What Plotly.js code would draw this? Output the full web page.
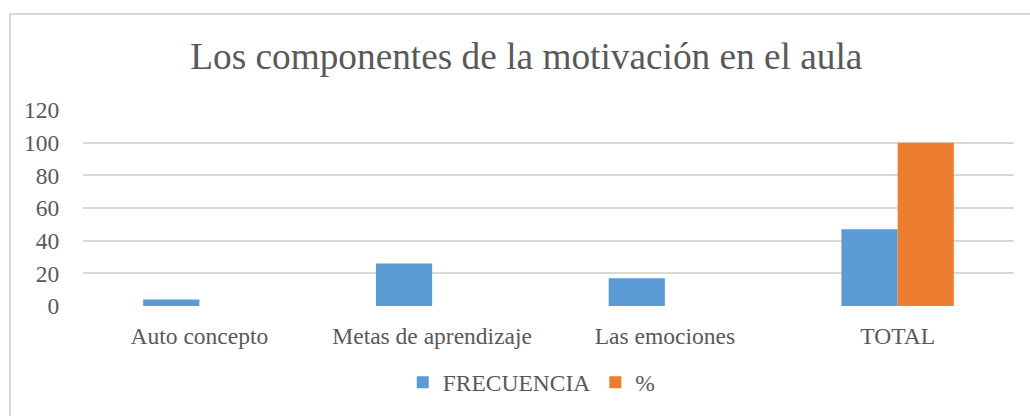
<!DOCTYPE html>
<html>
<head>
<meta charset="utf-8">
<script src="https://cdn.plot.ly/plotly-3.0.1.min.js"></script>
<style>
html,body{margin:0;padding:0;background:#fff;overflow:hidden;}
#frame{position:absolute;left:9px;top:13px;width:1040px;height:440px;border:2px solid #d9d9d9;box-sizing:border-box;}
#chart{position:absolute;left:0;top:0;width:1030px;height:416px;}
</style>
</head>
<body>
<div id="frame"></div>
<div id="chart"></div>
<script>
const categories = ["Auto concepto", "Metas de aprendizaje", "Las emociones", "TOTAL"];
const frecuencia = [4, 26, 17, 47];
const porcentaje = [null, null, null, 100];
const yTicks = [0, 20, 40, 60, 80, 100, 120];

const font = {family: '"Liberation Serif"', color: "#595959"};

const data = [
  {type: "bar", name: "FRECUENCIA", x: categories, y: frecuencia, marker: {color: "#5b9bd5"}},
  {type: "bar", name: "%", x: categories, y: porcentaje, marker: {color: "#ed7d31"}}
];

const layout = {
  width: 1030, height: 416,
  font: font,
  paper_bgcolor: "rgba(0,0,0,0)", plot_bgcolor: "rgba(0,0,0,0)",
  margin: {l: 83, r: 16, t: 110, b: 108},
  title: {text: "Los componentes de la motivación en el aula", font: Object.assign({}, font, {size: 37.3}), x: 0.511, xanchor: "center", y: 0.865, yanchor: "middle"},
  barmode: "group", bargap: 0.517, bargroupgap: 0,
  xaxis: {tickfont: Object.assign({}, font, {size: 23.5}), showline: false, showgrid: false, ticks: "outside", ticklen: 9, tickcolor: "rgba(0,0,0,0)"},
  yaxis: {range: [0, 120], tickvals: yTicks, tickfont: Object.assign({}, font, {size: 23.5}), gridcolor: "#d9d9d9", gridwidth: 2, zeroline: false, showline: false, ticks: "outside", ticklen: 18, tickcolor: "rgba(0,0,0,0)"},
  legend: {orientation: "h", x: 0.482, xanchor: "center", y: -0.39, yanchor: "middle", font: Object.assign({}, font, {size: 23.5}), itemwidth: 30},
  showlegend: true
};

Plotly.newPlot("chart", data, layout, {displayModeBar: false, staticPlot: true});
</script>
</body>
</html>
